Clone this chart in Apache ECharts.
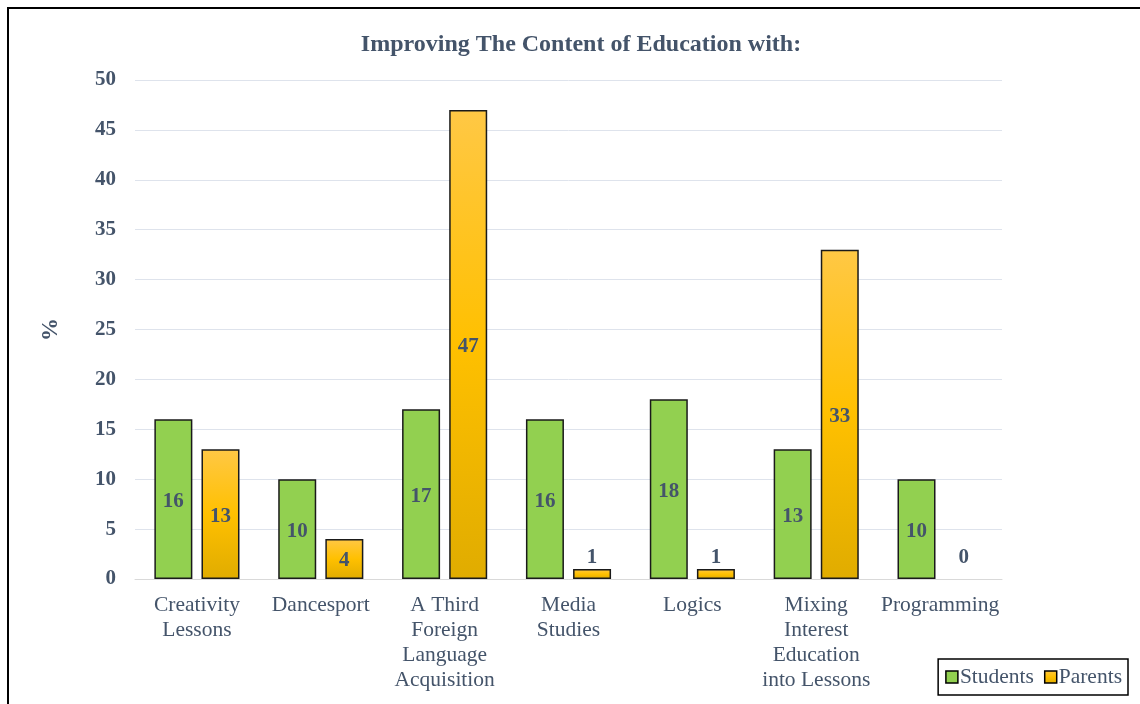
<!DOCTYPE html>
<html>
<head>
<meta charset="utf-8">
<script src="https://cdn.jsdelivr.net/npm/echarts@6/dist/echarts.min.js"></script>
<style>
  html, body { margin: 0; padding: 0; background: #fff; }
  #chart { width: 1140px; height: 704px; }
</style>
</head>
<body>
<div id="chart"></div>
<script>
// Survey answers: share (%) of students and parents per proposal
const categories = [
  'Creativity\nLessons',
  'Dancesport',
  'A Third\nForeign\nLanguage\nAcquisition',
  'Media\nStudies',
  'Logics',
  'Mixing\nInterest\nEducation\ninto Lessons',
  'Programming'
];
const students = [16, 10, 17, 16, 18, 13, 10];
const parents = [13, 4, 47, 1, 1, 33, 0];
const yTicks = { min: 0, max: 50, step: 5 };

const FONT = '"Liberation Serif", "Times New Roman", serif';
const TEXT = '#44546A';

// short bars get their value label just above the baseline; empty bars get no outline
function withLabels(values) {
  return values.map(v => {
    if (v >= 3) return v;
    const item = { value: v, label: { position: 'insideBottom', distance: 11, offset: [0, 0] } };
    if (v === 0) item.itemStyle = { borderWidth: 0 };
    return item;
  });
}

const barLabel = {
  show: true,
  position: 'inside',
  offset: [0, 2],
  fontFamily: FONT,
  fontSize: 21,
  fontWeight: 'bold',
  color: TEXT
};

const chart = echarts.init(document.getElementById('chart'), null, { renderer: 'canvas' });
chart.setOption({
  backgroundColor: '#ffffff',
  animation: false,
  graphic: [{
    type: 'rect',
    shape: { x: 8, y: 8, width: 1160, height: 720 },
    style: { fill: 'none', stroke: '#000', lineWidth: 2 },
    silent: true
  }],
  title: {
    text: 'Improving The Content of Education with:',
    left: 576,
    top: 28,
    textAlign: 'center',
    textStyle: { fontFamily: FONT, fontSize: 24, fontWeight: 'bold', color: TEXT }
  },
  legend: {
    right: 12,
    bottom: 9,
    icon: 'rect',
    itemWidth: 12,
    itemHeight: 12,
    itemGap: 10,
    padding: [7, 6, 7, 7],
    borderColor: '#000',
    borderWidth: 1.5,
    itemStyle: { borderColor: '#000', borderWidth: 1.5 },
    textStyle: { fontFamily: FONT, fontSize: 21.5, color: TEXT, padding: [0, 0, 0, -3] },
    data: ['Students', 'Parents']
  },
  grid: { left: 135, right: 138, top: 80, bottom: 125 },
  xAxis: {
    type: 'category',
    data: categories,
    axisTick: { show: false },
    axisLine: { lineStyle: { color: '#D9D9D9', width: 1 } },
    axisLabel: {
      interval: 0,
      margin: 14,
      fontFamily: FONT,
      fontSize: 21.5,
      lineHeight: 25,
      color: TEXT
    }
  },
  yAxis: {
    type: 'value',
    min: yTicks.min,
    max: yTicks.max,
    interval: yTicks.step,
    name: '%',
    nameLocation: 'middle',
    nameGap: 72,
    nameRotate: 90,
    nameTextStyle: { fontFamily: FONT, fontSize: 23, fontWeight: 'bold', color: TEXT },
    axisLine: { show: false },
    axisTick: { show: false },
    splitLine: { lineStyle: { color: '#DEE3EC', width: 1 } },
    axisLabel: { margin: 19, fontFamily: FONT, fontSize: 21, fontWeight: 'bold', color: TEXT }
  },
  series: [
    {
      name: 'Students',
      type: 'bar',
      barWidth: 38,
      barGap: '24%',
      data: withLabels(students),
      itemStyle: { color: '#92D050', borderColor: '#1a1a1a', borderWidth: 1.5 },
      label: barLabel
    },
    {
      name: 'Parents',
      type: 'bar',
      barWidth: 38,
      data: withLabels(parents),
      itemStyle: {
        color: new echarts.graphic.LinearGradient(0, 0, 0, 1, [
          { offset: 0, color: '#FFC845' },
          { offset: 0.5, color: '#FFC000' },
          { offset: 1, color: '#E0AC00' }
        ]),
        borderColor: '#1a1a1a',
        borderWidth: 1.5
      },
      label: barLabel
    }
  ]
});
</script>
</body>
</html>
